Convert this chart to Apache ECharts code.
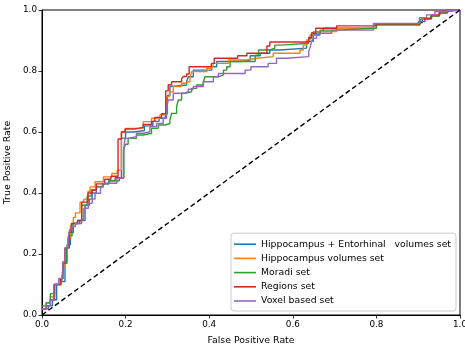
<!DOCTYPE html>
<html>
<head>
<meta charset="utf-8">
<script src="https://cdn.jsdelivr.net/npm/echarts@6/dist/echarts.min.js"></script>
<style>
  html, body { margin: 0; padding: 0; background: #fff; }
  #chart { width: 465px; height: 348px; }
</style>
</head>
<body>
<div id="chart"></div>
<script>
// ROC curves: each point = [false positive rate, true positive rate reached at that FPR]
const seriesNames = [
  "Hippocampus + Entorhinal   volumes set",
  "Hippocampus volumes set",
  "Moradi set",
  "Regions set",
  "Voxel based set",
];
const colors = ["#1f77b4", "#ff7f0e", "#2ca02c", "#d62728", "#9467bd"];
const axisTicks = [0, 0.2, 0.4, 0.6, 0.8, 1.0];

const rocEntorhinal = [
  [0, 0.02], [0.015, 0.03], [0.025, 0.05], [0.035, 0.1], [0.045, 0.11], [0.055, 0.17],
  [0.06, 0.23], [0.068, 0.27], [0.075, 0.3], [0.09, 0.31], [0.103, 0.36], [0.113, 0.38],
  [0.12, 0.4], [0.13, 0.42], [0.145, 0.43], [0.16, 0.44], [0.175, 0.45], [0.19, 0.58],
  [0.2, 0.6], [0.22, 0.605], [0.245, 0.62], [0.265, 0.635], [0.28, 0.645], [0.295, 0.66],
  [0.3, 0.72], [0.306, 0.749], [0.31, 0.754], [0.346, 0.765], [0.35, 0.781], [0.362, 0.803],
  [0.406, 0.814], [0.418, 0.831], [0.474, 0.836], [0.498, 0.85], [0.522, 0.858],
  [0.545, 0.869], [0.569, 0.875], [0.633, 0.897], [0.649, 0.918], [0.665, 0.93],
  [0.673, 0.94], [0.793, 0.951], [0.904, 0.958], [0.91, 0.97], [0.93, 0.98],
  [0.95, 0.99], [0.965, 1], [1, 1],
];
const rocHippocampus = [
  [0, 0.02], [0.01, 0.04], [0.02, 0.06], [0.03, 0.1], [0.045, 0.12], [0.05, 0.16],
  [0.055, 0.22], [0.062, 0.25], [0.068, 0.29], [0.075, 0.32], [0.08, 0.335], [0.091, 0.37],
  [0.1, 0.38], [0.11, 0.405], [0.115, 0.42], [0.127, 0.437], [0.147, 0.453], [0.167, 0.464],
  [0.18, 0.475], [0.19, 0.6], [0.199, 0.612], [0.242, 0.634], [0.262, 0.645], [0.282, 0.656],
  [0.298, 0.716], [0.305, 0.732], [0.314, 0.749], [0.334, 0.76], [0.342, 0.765],
  [0.354, 0.776], [0.358, 0.798], [0.394, 0.809], [0.406, 0.814], [0.41, 0.825],
  [0.446, 0.836], [0.49, 0.842], [0.514, 0.847], [0.553, 0.858], [0.617, 0.869],
  [0.625, 0.885], [0.633, 0.902], [0.641, 0.918], [0.649, 0.929], [0.705, 0.94],
  [0.8, 0.95], [0.9, 0.96], [0.905, 0.97], [0.93, 0.98], [0.95, 0.99], [0.97, 1], [1, 1],
];
const rocMoradi = [
  [0, 0.03], [0.01, 0.04], [0.02, 0.07], [0.03, 0.1], [0.04, 0.115], [0.048, 0.13],
  [0.052, 0.17], [0.058, 0.22], [0.065, 0.26], [0.072, 0.3], [0.085, 0.31], [0.095, 0.36],
  [0.108, 0.39], [0.118, 0.41], [0.13, 0.42], [0.145, 0.43], [0.16, 0.44], [0.185, 0.45],
  [0.196, 0.545], [0.2, 0.56], [0.206, 0.579], [0.226, 0.59], [0.242, 0.596], [0.262, 0.612],
  [0.278, 0.623], [0.294, 0.628], [0.306, 0.639], [0.31, 0.661], [0.322, 0.683],
  [0.326, 0.705], [0.334, 0.727], [0.342, 0.732], [0.358, 0.743], [0.37, 0.754],
  [0.386, 0.765], [0.39, 0.781], [0.422, 0.787], [0.434, 0.803], [0.442, 0.814],
  [0.45, 0.831], [0.51, 0.852], [0.518, 0.869], [0.545, 0.875], [0.557, 0.885],
  [0.573, 0.891], [0.638, 0.907], [0.645, 0.924], [0.665, 0.934], [0.705, 0.94],
  [0.8, 0.953], [0.9, 0.96], [0.905, 0.97], [0.93, 0.98], [0.95, 0.99], [0.97, 1], [1, 1],
];
const rocRegions = [
  [0, 0.02], [0.01, 0.03], [0.02, 0.05], [0.03, 0.1], [0.045, 0.12], [0.05, 0.17],
  [0.055, 0.22], [0.065, 0.27], [0.07, 0.3], [0.085, 0.31], [0.095, 0.37], [0.11, 0.4],
  [0.12, 0.41], [0.13, 0.43], [0.15, 0.445], [0.165, 0.455], [0.182, 0.577], [0.19, 0.6],
  [0.199, 0.61], [0.222, 0.615], [0.242, 0.625], [0.262, 0.635], [0.27, 0.648],
  [0.286, 0.66], [0.296, 0.735], [0.302, 0.755], [0.31, 0.765], [0.334, 0.775],
  [0.338, 0.782], [0.346, 0.79], [0.352, 0.814], [0.405, 0.825], [0.412, 0.842],
  [0.468, 0.85], [0.49, 0.858], [0.538, 0.882], [0.545, 0.895], [0.638, 0.91],
  [0.645, 0.925], [0.655, 0.94], [0.705, 0.948], [0.8, 0.955], [0.904, 0.962],
  [0.916, 0.973], [0.932, 0.984], [0.952, 0.995], [0.968, 1], [1, 1],
];
const rocVoxel = [
  [0, 0.02], [0.01, 0.03], [0.02, 0.05], [0.028, 0.1], [0.04, 0.12], [0.05, 0.175],
  [0.055, 0.22], [0.062, 0.25], [0.066, 0.28], [0.072, 0.29], [0.08, 0.3], [0.095, 0.311],
  [0.1, 0.35], [0.111, 0.366], [0.12, 0.38], [0.127, 0.399], [0.14, 0.42], [0.147, 0.432],
  [0.179, 0.448], [0.195, 0.541], [0.199, 0.579], [0.206, 0.585], [0.226, 0.596],
  [0.242, 0.601], [0.258, 0.617], [0.274, 0.628], [0.29, 0.645], [0.298, 0.678],
  [0.302, 0.705], [0.314, 0.727], [0.342, 0.732], [0.35, 0.74], [0.362, 0.749],
  [0.386, 0.765], [0.41, 0.781], [0.422, 0.792], [0.486, 0.803], [0.5, 0.814],
  [0.541, 0.825], [0.561, 0.842], [0.585, 0.847], [0.638, 0.864], [0.641, 0.875],
  [0.645, 0.897], [0.649, 0.907], [0.657, 0.924], [0.693, 0.934], [0.793, 0.956],
  [0.903, 0.975], [0.92, 0.984], [0.94, 0.995], [0.96, 1], [1, 1],
];
const chanceLine = [[0, 0], [1, 1]];

const curves = [rocEntorhinal, rocHippocampus, rocMoradi, rocRegions, rocVoxel];
const FONT = "DejaVu Sans";

const axisCommon = {
  type: "value",
  min: 0,
  max: 1,
  interval: 0.2,
  nameLocation: "middle",
  nameTextStyle: { color: "#000", fontFamily: FONT, fontSize: 9.4 },
  axisLine: { show: true, lineStyle: { color: "#000", width: 1 } },
  axisTick: { show: true, length: 3.5, lineStyle: { color: "#000", width: 0.8 } },
  axisLabel: {
    color: "#000",
    fontFamily: FONT,
    fontSize: 8.8,
    formatter: (v) => v.toFixed(1),
  },
  splitLine: { show: false },
};

const chart = echarts.init(document.getElementById("chart"), null, { renderer: "canvas" });
chart.setOption({
  animation: false,
  backgroundColor: "#fff",
  color: colors,
  grid: {
    left: 42, right: 5, top: 10, bottom: 33,
    containLabel: false,
    outerBoundsMode: "none",
    show: true, borderColor: "#000", borderWidth: 1, backgroundColor: "transparent",
  },
  xAxis: {
    ...axisCommon,
    name: "False Positive Rate",
    nameGap: 21,
    axisLabel: { ...axisCommon.axisLabel, margin: 5 },
  },
  yAxis: {
    ...axisCommon,
    name: "True Positive Rate",
    nameGap: 24,
    axisLabel: { ...axisCommon.axisLabel, margin: 5 },
  },
  legend: {
    data: seriesNames,
    orient: "vertical",
    right: 9,
    bottom: 37,
    icon: "rect",
    itemWidth: 22,
    itemHeight: 1.6,
    itemGap: 2.2,
    padding: [5, 5, 4, 3],
    backgroundColor: "#fff",
    borderColor: "#cccccc",
    borderWidth: 1,
    borderRadius: 3,
    textStyle: { color: "#000", fontFamily: FONT, fontSize: 9.3, lineHeight: 12 },
  },
  series: [
    ...curves.map((data, i) => ({
      name: seriesNames[i],
      type: "line",
      step: "end",
      data,
      showSymbol: false,
      symbol: "none",
      lineStyle: { color: colors[i], width: 1.4 },
      itemStyle: { color: colors[i] },
      z: 2 + i,
    })),
    {
      name: "chance",
      type: "line",
      data: chanceLine,
      symbol: "none",
      lineStyle: { color: "#000", width: 1.4, type: [5, 3] },
      z: 10,
    },
  ],
});
</script>
</body>
</html>
